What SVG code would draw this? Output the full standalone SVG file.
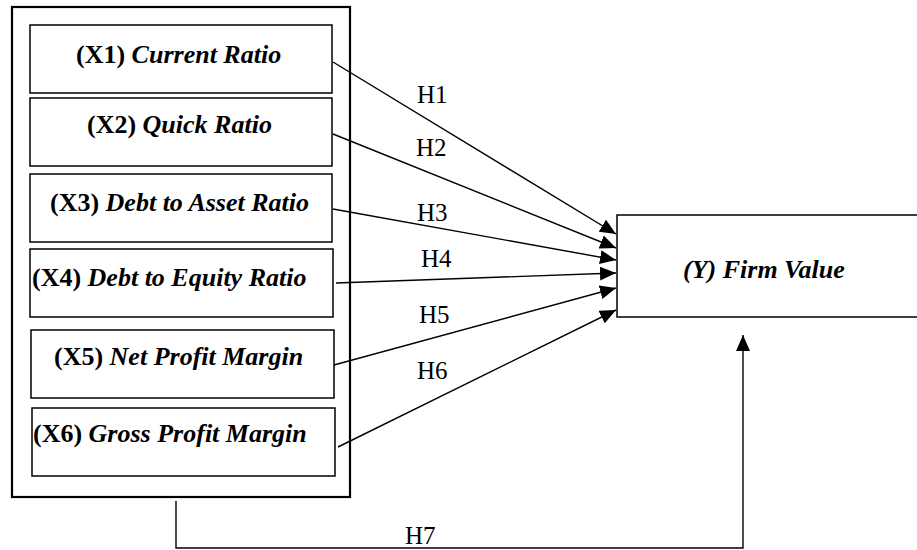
<svg xmlns="http://www.w3.org/2000/svg" width="917" height="550" viewBox="0 0 917 550">
<defs>
<style>
.box{fill:#fff;stroke:#000;stroke-width:1.5}
.outer{fill:#fff;stroke:#000;stroke-width:2.2}
.lbl{font-family:"Liberation Serif","Times New Roman",serif;font-size:26px;font-weight:bold;fill:#000}
.it{font-style:italic}
.h{font-family:"Liberation Serif","Times New Roman",serif;font-size:25px;fill:#000}
.ln{fill:none;stroke:#000;stroke-width:1.4}
</style>
<marker id="arr" markerUnits="userSpaceOnUse" markerWidth="17" markerHeight="14" refX="16" refY="7" orient="auto">
<path d="M0,0 L16,7 L0,14 z" fill="#000"/>
</marker>
</defs>
<rect class="outer" x="12" y="7" width="338" height="490"/>
<g id="x1"><rect class="box" x="30" y="25" width="302" height="68"/><text class="lbl" x="76" y="63">(X1) <tspan class="it">Current Ratio</tspan></text></g>
<g id="x2"><rect class="box" x="30" y="98" width="302" height="68"/><text class="lbl" x="87" y="133">(X2) <tspan class="it">Quick Ratio</tspan></text></g>
<g id="x3"><rect class="box" x="30" y="174" width="302" height="68"/><text class="lbl" x="50" y="211">(X3) <tspan class="it">Debt to Asset Ratio</tspan></text></g>
<g id="x4"><rect class="box" x="30" y="249" width="303" height="68"/><text class="lbl" x="32" y="286">(X4) <tspan class="it">Debt to Equity Ratio</tspan></text></g>
<g id="x5"><rect class="box" x="31" y="330" width="303" height="68"/><text class="lbl" x="54" y="365">(X5) <tspan class="it">Net Profit Margin</tspan></text></g>
<g id="x6"><rect class="box" x="32" y="408" width="303" height="68"/><text class="lbl" x="33" y="442">(X6) <tspan class="it">Gross Profit Margin</tspan></text></g>
<g id="y"><rect class="box" x="617" y="215" width="302" height="102"/><text class="lbl it" x="683" y="278">(Y) Firm Value</text></g>
<g id="connectors">
<line class="ln" x1="333" y1="62" x2="616" y2="234" marker-end="url(#arr)"/>
<line class="ln" x1="333" y1="134" x2="616" y2="248" marker-end="url(#arr)"/>
<line class="ln" x1="333" y1="209" x2="616" y2="260" marker-end="url(#arr)"/>
<line class="ln" x1="336" y1="283" x2="616" y2="273" marker-end="url(#arr)"/>
<line class="ln" x1="334" y1="365" x2="616" y2="288" marker-end="url(#arr)"/>
<line class="ln" x1="338" y1="447" x2="616" y2="310" marker-end="url(#arr)"/>
<polyline class="ln" points="176,501 176,548 743,548 743,335" marker-end="url(#arr)"/>
<text class="h" x="417" y="103">H1</text>
<text class="h" x="416" y="156">H2</text>
<text class="h" x="417" y="221">H3</text>
<text class="h" x="421" y="267">H4</text>
<text class="h" x="419" y="323">H5</text>
<text class="h" x="417" y="379">H6</text>
<text class="h" x="405" y="544">H7</text>
</g>
</svg>
